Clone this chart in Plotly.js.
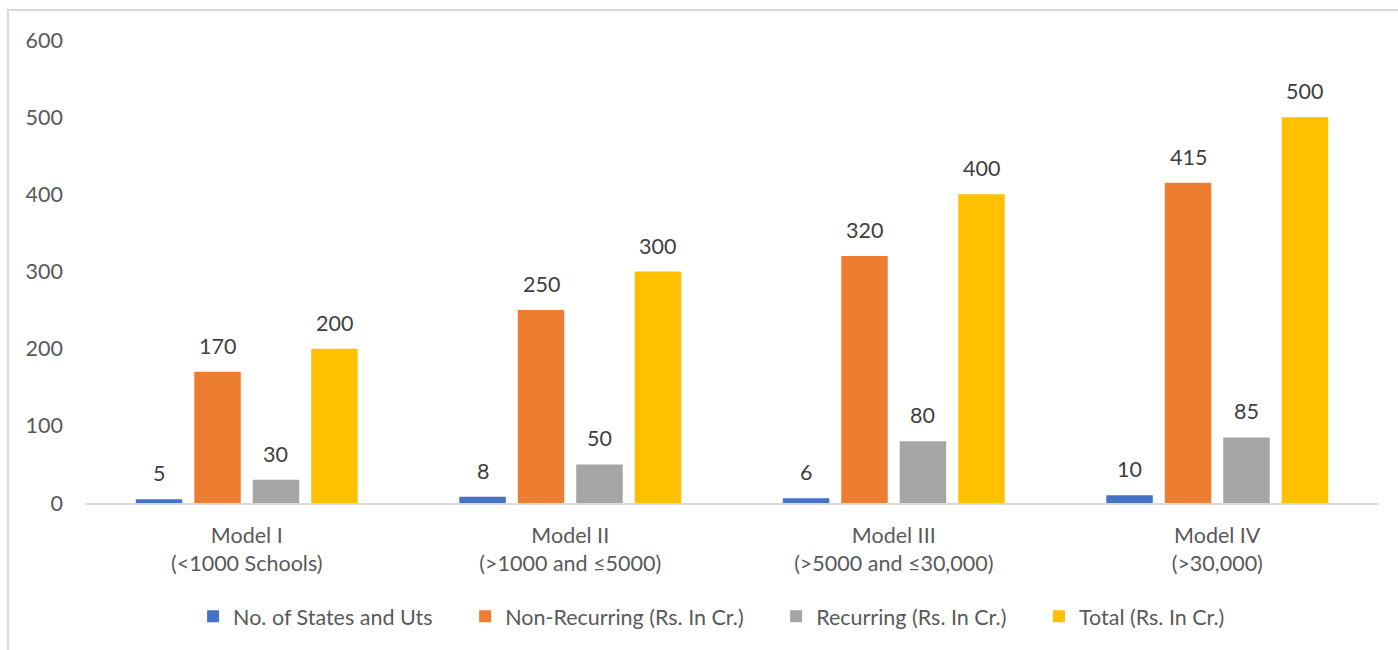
<!DOCTYPE html>
<html>
<head>
<meta charset="utf-8">
<script src="https://cdn.plot.ly/plotly-3.0.1.min.js"></script>
<style>
  html, body { margin: 0; padding: 0; background: #fff; overflow: hidden; }
  #chart { width: 1398px; height: 650px; position: absolute; left: 0; top: 0; }
  #frame { position: absolute; left: 7px; top: 9px; width: 1500px; height: 800px;
           border-left: 2px solid #d9d9d9; border-top: 2px solid #d9d9d9; pointer-events: none; }
</style>
</head>
<body>
<div id="chart"></div>
<div id="frame"></div>
<script>
const categories = [
  "Model I<br>(<1000 Schools)",
  "Model II<br>(>1000 and ≤5000)",
  "Model III<br>(>5000 and ≤30,000)",
  "Model IV<br>(>30,000)"
];
const seriesNames = [
  "No. of States and Uts",
  "Non-Recurring (Rs. In Cr.)",
  "Recurring (Rs. In Cr.)",
  "Total (Rs. In Cr.)"
];
const statesUts = [5, 8, 6, 10];
const nonRecurring = [170, 250, 320, 415];
const recurring = [30, 50, 80, 85];
const total = [200, 300, 400, 500];
const yTicks = [0, 100, 200, 300, 400, 500, 600];

const colors = ["#4472C4", "#ED7D31", "#A5A5A5", "#FFC000"];
const allSeries = [statesUts, nonRecurring, recurring, total];
const FONT = "Lato, 'Open Sans', sans-serif";
const FS = 21.5;
const BARGAP = 0.277;
const GROUPGAP = 0.205;
const LEGEND_PAD = "\u00a0\u00a0\u00a0\u00a0\u00a0";

const traces = allSeries.map((vals, i) => ({
  type: "bar",
  name: seriesNames[i] + (i < allSeries.length - 1 ? LEGEND_PAD : ""),
  x: categories.map((c, j) => j),
  y: vals,
  marker: { color: colors[i] },
  hoverinfo: "none"
}));

// data labels positioned at each bar's centre (derived from bar grouping parameters)
const n = allSeries.length;
const slot = (1 - BARGAP) / n;
const annotations = [];
allSeries.forEach((vals, i) => {
  vals.forEach((v, j) => {
    annotations.push({
      x: j + (i - (n - 1) / 2) * slot,
      y: v,
      xref: "x", yref: "y",
      text: String(v),
      showarrow: false,
      yanchor: "bottom",
      yshift: 11,
      font: { family: FONT, size: FS, color: "#404040" }
    });
  });
});

const layout = {
  width: 1398, height: 650,
  margin: { l: 85, r: 19, t: 40, b: 147 },
  paper_bgcolor: "rgba(0,0,0,0)",
  plot_bgcolor: "rgba(0,0,0,0)",
  barmode: "group",
  bargap: BARGAP,
  bargroupgap: GROUPGAP,
  font: { family: FONT, size: FS, color: "#595959" },
  xaxis: {
    tickmode: "array",
    tickvals: categories.map((c, j) => j),
    ticktext: categories,
    range: [-0.5, categories.length - 0.5],
    showline: true, linecolor: "#d9d9d9", linewidth: 2,
    showgrid: false, zeroline: false, ticks: "",
    ticklabelstandoff: 12,
    tickfont: { family: FONT, size: FS, color: "#595959" },
    fixedrange: true
  },
  yaxis: {
    range: [0, 600],
    tickmode: "array",
    tickvals: yTicks,
    ticktext: yTicks.map(String),
    showgrid: false, zeroline: false, showline: false, ticks: "",
    ticklabelstandoff: 21,
    tickfont: { family: FONT, size: FS, color: "#595959" },
    fixedrange: true
  },
  showlegend: true,
  legend: {
    orientation: "h",
    xref: "container", yref: "container",
    x: 0.509, xanchor: "center",
    y: 0.052, yanchor: "middle",
    font: { family: FONT, size: FS, color: "#595959" },
    itemclick: false, itemdoubleclick: false
  },
  annotations: annotations
};

Plotly.newPlot("chart", traces, layout, { displayModeBar: false, staticPlot: true });
</script>
</body>
</html>
